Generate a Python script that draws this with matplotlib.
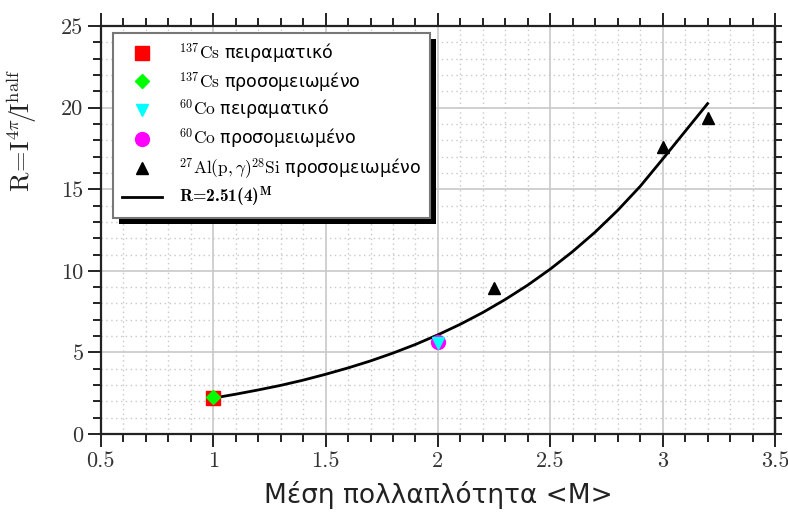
import matplotlib
matplotlib.use("Agg")
import matplotlib.pyplot as plt
from matplotlib.patches import Rectangle
from matplotlib.transforms import IdentityTransform
from matplotlib.ticker import MultipleLocator, NullFormatter

plt.rcParams["mathtext.fontset"] = "cm"
plt.rcParams["font.family"] = ["DejaVu Sans"]

# measured points
CS_EXP_M = [1.0]
CS_EXP_R = [2.22]
CS_SIM_M = [1.0]
CS_SIM_R = [2.25]
CO_EXP_M = [2.0]
CO_EXP_R = [5.55]
CO_SIM_M = [2.0]
CO_SIM_R = [5.65]
AL_SIM_M = [2.25, 3.0, 3.2]
AL_SIM_R = [8.95, 17.6, 19.4]

# fitted curve R = 2.51(4)^M, sampled along M
FIT_M = [1.0, 1.1, 1.2, 1.3, 1.4, 1.5, 1.6, 1.7, 1.8, 1.9, 2.0, 2.1,
         2.2, 2.3, 2.4, 2.5, 2.6, 2.7, 2.8, 2.9, 3.0, 3.1, 3.2]
FIT_R = [2.20, 2.44, 2.70, 2.98, 3.30, 3.66, 4.05, 4.48, 4.96, 5.49, 6.08, 6.73,
         7.45, 8.25, 9.13, 10.11, 11.19, 12.38, 13.71, 15.18, 16.85, 18.55, 20.25]

X_TICKS = [0.5, 1, 1.5, 2, 2.5, 3, 3.5]
Y_TICKS = [0, 5, 10, 15, 20, 25]

fig = plt.figure(figsize=(7.88, 5.13), dpi=100)
ax = fig.add_axes([0.128, 0.154, 0.8555, 0.795])

ax.plot(CS_EXP_M, CS_EXP_R, ls="none", marker="s", ms=9.5, color="#ff0000",
        label=r"$^{137}\mathrm{Cs}$ πειραματικό", zorder=4)
ax.plot(CS_SIM_M, CS_SIM_R, ls="none", marker="D", ms=7, color="#00ff00",
        label=r"$^{137}\mathrm{Cs}$ προσομειωμένο", zorder=5)
ax.plot(CO_EXP_M, CO_EXP_R, ls="none", marker="v", ms=9, color="#00ffff",
        label=r"$^{60}\mathrm{Co}$ πειραματικό", zorder=5)
ax.plot(CO_SIM_M, CO_SIM_R, ls="none", marker="o", ms=10, color="#ff00ff",
        label=r"$^{60}\mathrm{Co}$ προσομειωμένο", zorder=4)
ax.plot(AL_SIM_M, AL_SIM_R, ls="none", marker="^", ms=8, color="black",
        label=r"$^{27}\mathrm{Al(p,\gamma)}^{28}\mathrm{Si}$ προσομειωμένο", zorder=5)
ax.plot(FIT_M, FIT_R, color="black", lw=2,
        label=r"R=2.51(4)$^{\mathbf{M}}$", zorder=3)

ax.set_xlim(0.5, 3.5)
ax.set_ylim(0, 25)
ax.set_xticks(X_TICKS)
ax.set_xticklabels([f"{t:g}" for t in X_TICKS])
ax.set_yticks(Y_TICKS)
ax.set_yticklabels([str(t) for t in Y_TICKS])
ax.xaxis.set_minor_locator(MultipleLocator(0.1))
ax.yaxis.set_minor_locator(MultipleLocator(1))

ax.grid(which="major", color="#c8c8c8", lw=1.2, ls="-", zorder=0)
ax.grid(which="minor", color="#c8c8c8", lw=1.0, ls=(0, (1, 2.5)), zorder=0)
ax.set_axisbelow(True)

for sp in ax.spines.values():
    sp.set_linewidth(1.6)
    sp.set_color("#222222")

ax.tick_params(which="both", direction="out", width=1.4, color="#222222",
               top=True, right=False, labeltop=False, labelright=False)
ax.tick_params(which="major", length=9.5)
ax.tick_params(which="minor", length=5.5)
ax.tick_params(axis="both", which="both", labelsize=16, pad=3, labelcolor="#333333")
for lbl in ax.get_xticklabels() + ax.get_yticklabels():
    lbl.set_family("cmr10")

# right-hand ticks are short for both major and minor
rax = ax.secondary_yaxis("right")
rax.set_yticks(Y_TICKS)
rax.yaxis.set_minor_locator(MultipleLocator(1))
rax.yaxis.set_major_formatter(NullFormatter())
rax.tick_params(which="both", direction="out", length=5, width=1.4, color="#222222")
rax.spines["right"].set_linewidth(1.6)
rax.spines["right"].set_color("#222222")

ax.set_xlabel("Μέση πολλαπλότητα <M>", fontsize=19, color="#222222", labelpad=7)
ax.set_ylabel(r"$\mathrm{R\!=\!I^{4\pi}\!/\!I^{half}}$", fontsize=19, color="#222222")
ax.yaxis.set_label_coords(-0.092, 0.745)

leg = ax.legend(loc="upper left", bbox_to_anchor=(0.018, 0.984), borderaxespad=0,
                fancybox=False, frameon=True, framealpha=1, edgecolor="#777777",
                fontsize=12.5, labelspacing=0.27, handlelength=2.3, handletextpad=1.0,
                borderpad=0.5, numpoints=1)
leg.get_frame().set_linewidth(1.5)
leg.set_zorder(10)
# fit label in bold Computer Modern
leg.get_texts()[-1].set_family("cmb10")

# black drop shadow behind the legend box
fig.canvas.draw()
bb = leg.get_window_extent()
shadow = Rectangle((bb.x0 + 6, bb.y0 - 6), bb.width, bb.height, transform=IdentityTransform(),
                   facecolor="black", edgecolor="none", zorder=9)
ax.add_artist(shadow)

fig.savefig("out.png", dpi=100)
